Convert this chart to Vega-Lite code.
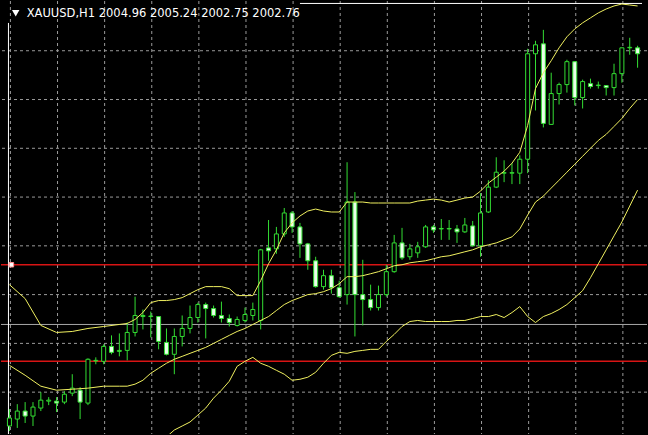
{
  "$schema": "https://vega.github.io/schema/vega-lite/v6.json",
  "width": 648,
  "height": 435,
  "autosize": {"type": "fit", "contains": "padding"},
  "padding": 0,
  "background": "#000000",
  "config": {"view": {"stroke": null}},
  "datasets": {
    "candles": [
      {"i":0,"o":1966.53,"h":1968.26,"l":1966.02,"c":1967.35},
      {"i":1,"o":1967.24,"h":1968.77,"l":1966.33,"c":1968.06},
      {"i":2,"o":1968.06,"h":1968.98,"l":1966.84,"c":1967.55},
      {"i":3,"o":1967.55,"h":1968.98,"l":1966.53,"c":1968.47},
      {"i":4,"o":1968.37,"h":1970.00,"l":1968.06,"c":1969.18},
      {"i":5,"o":1969.08,"h":1969.49,"l":1968.67,"c":1969.18},
      {"i":6,"o":1969.08,"h":1969.49,"l":1967.96,"c":1968.88},
      {"i":7,"o":1968.98,"h":1970.10,"l":1968.77,"c":1969.79},
      {"i":8,"o":1969.90,"h":1971.84,"l":1969.59,"c":1970.41},
      {"i":9,"o":1970.20,"h":1970.51,"l":1967.24,"c":1968.98},
      {"i":10,"o":1968.88,"h":1973.47,"l":1968.67,"c":1973.37},
      {"i":11,"o":1973.21,"h":1973.57,"l":1972.86,"c":1973.26},
      {"i":12,"o":1973.16,"h":1974.90,"l":1972.86,"c":1974.69},
      {"i":13,"o":1974.69,"h":1975.82,"l":1973.88,"c":1974.08},
      {"i":14,"o":1974.18,"h":1976.02,"l":1973.67,"c":1974.28},
      {"i":15,"o":1974.28,"h":1977.14,"l":1973.26,"c":1976.12},
      {"i":16,"o":1976.12,"h":1979.79,"l":1975.71,"c":1977.86},
      {"i":17,"o":1977.75,"h":1978.47,"l":1976.43,"c":1977.86},
      {"i":18,"o":1977.75,"h":1978.26,"l":1975.61,"c":1977.80},
      {"i":19,"o":1977.75,"h":1977.80,"l":1974.39,"c":1975.20},
      {"i":20,"o":1975.10,"h":1976.53,"l":1973.77,"c":1973.88},
      {"i":21,"o":1973.88,"h":1976.53,"l":1971.84,"c":1975.71},
      {"i":22,"o":1975.71,"h":1977.86,"l":1974.69,"c":1976.53},
      {"i":23,"o":1976.53,"h":1978.88,"l":1976.02,"c":1977.65},
      {"i":24,"o":1977.65,"h":1979.18,"l":1977.14,"c":1978.98},
      {"i":25,"o":1978.98,"h":1979.18,"l":1975.51,"c":1978.57},
      {"i":26,"o":1978.57,"h":1978.88,"l":1977.65,"c":1977.86},
      {"i":27,"o":1977.86,"h":1979.28,"l":1977.14,"c":1977.55},
      {"i":28,"o":1977.55,"h":1977.96,"l":1976.73,"c":1977.14},
      {"i":29,"o":1976.84,"h":1977.75,"l":1976.73,"c":1977.45},
      {"i":30,"o":1977.35,"h":1978.67,"l":1977.14,"c":1977.96},
      {"i":31,"o":1977.86,"h":1979.18,"l":1977.35,"c":1978.47},
      {"i":32,"o":1977.35,"h":1984.69,"l":1976.43,"c":1984.59},
      {"i":33,"o":1984.79,"h":1987.65,"l":1983.47,"c":1984.49},
      {"i":34,"o":1984.69,"h":1986.94,"l":1984.18,"c":1986.22},
      {"i":35,"o":1986.22,"h":1988.88,"l":1985.92,"c":1988.37},
      {"i":36,"o":1988.37,"h":1988.57,"l":1986.33,"c":1986.94},
      {"i":37,"o":1986.94,"h":1987.35,"l":1983.77,"c":1985.20},
      {"i":38,"o":1985.20,"h":1985.30,"l":1982.55,"c":1983.47},
      {"i":39,"o":1983.47,"h":1983.88,"l":1980.71,"c":1980.82},
      {"i":40,"o":1980.82,"h":1982.55,"l":1980.51,"c":1981.94},
      {"i":41,"o":1981.94,"h":1982.55,"l":1980.10,"c":1980.71},
      {"i":42,"o":1980.71,"h":1981.43,"l":1979.69,"c":1979.79},
      {"i":43,"o":1980.00,"h":1993.57,"l":1978.98,"c":1989.49},
      {"i":44,"o":1989.49,"h":1990.51,"l":1975.71,"c":1980.00},
      {"i":45,"o":1980.00,"h":1983.57,"l":1976.84,"c":1979.49},
      {"i":46,"o":1979.49,"h":1981.02,"l":1978.37,"c":1978.67},
      {"i":47,"o":1978.67,"h":1980.92,"l":1978.37,"c":1980.00},
      {"i":48,"o":1980.00,"h":1983.06,"l":1979.79,"c":1982.35},
      {"i":49,"o":1982.35,"h":1986.12,"l":1982.24,"c":1985.30},
      {"i":50,"o":1985.30,"h":1986.84,"l":1983.57,"c":1983.77},
      {"i":51,"o":1983.88,"h":1985.20,"l":1983.57,"c":1984.69},
      {"i":52,"o":1984.28,"h":1985.41,"l":1983.77,"c":1984.90},
      {"i":53,"o":1984.90,"h":1987.14,"l":1984.79,"c":1986.94},
      {"i":54,"o":1986.94,"h":1987.14,"l":1986.33,"c":1986.63},
      {"i":55,"o":1986.73,"h":1987.75,"l":1985.61,"c":1986.78},
      {"i":56,"o":1986.73,"h":1987.65,"l":1985.61,"c":1986.78},
      {"i":57,"o":1986.73,"h":1987.14,"l":1985.30,"c":1986.43},
      {"i":58,"o":1986.43,"h":1987.86,"l":1986.33,"c":1987.14},
      {"i":59,"o":1987.04,"h":1987.55,"l":1984.95,"c":1985.00},
      {"i":60,"o":1985.00,"h":1990.41,"l":1983.88,"c":1988.37},
      {"i":61,"o":1988.47,"h":1991.73,"l":1988.37,"c":1991.02},
      {"i":62,"o":1991.02,"h":1994.08,"l":1990.92,"c":1992.55},
      {"i":63,"o":1992.45,"h":1993.77,"l":1991.53,"c":1992.50},
      {"i":64,"o":1992.45,"h":1993.47,"l":1991.33,"c":1992.50},
      {"i":65,"o":1992.45,"h":1994.28,"l":1991.33,"c":1993.88},
      {"i":66,"o":1993.88,"h":2005.20,"l":1992.45,"c":2004.69},
      {"i":67,"o":2004.69,"h":2006.02,"l":1998.88,"c":2005.61},
      {"i":68,"o":2005.71,"h":2007.14,"l":1997.14,"c":1997.55},
      {"i":69,"o":1997.45,"h":2002.75,"l":1997.40,"c":2000.61},
      {"i":70,"o":2000.61,"h":2001.73,"l":1999.49,"c":2001.53},
      {"i":71,"o":2001.53,"h":2004.08,"l":2000.71,"c":2003.88},
      {"i":72,"o":2003.88,"h":2003.93,"l":1999.39,"c":2000.20},
      {"i":73,"o":2000.20,"h":2002.04,"l":1999.08,"c":2001.84},
      {"i":74,"o":2001.63,"h":2002.14,"l":2001.12,"c":2001.33},
      {"i":75,"o":2001.43,"h":2001.84,"l":2001.12,"c":2001.48},
      {"i":76,"o":2001.43,"h":2001.48,"l":2000.41,"c":2001.22},
      {"i":77,"o":2001.22,"h":2003.67,"l":2000.41,"c":2002.65},
      {"i":78,"o":2002.65,"h":2005.30,"l":2001.73,"c":2005.30},
      {"i":79,"o":2005.30,"h":2006.33,"l":2004.59,"c":2005.35},
      {"i":80,"o":2005.30,"h":2005.51,"l":2003.26,"c":2004.69}
    ],
    "upper": [
      {"i":0,"v":1981.02},{"i":2,"v":1979.59},{"i":4,"v":1976.84},{"i":6,"v":1976.12},{"i":8,"v":1976.22},
      {"i":10,"v":1976.53},{"i":12,"v":1976.73},{"i":14,"v":1976.94},{"i":15,"v":1977.04},{"i":16,"v":1977.45},
      {"i":17,"v":1978.16},{"i":18,"v":1979.18},{"i":19,"v":1979.39},{"i":20,"v":1979.39},{"i":21,"v":1979.49},
      {"i":22,"v":1979.69},{"i":23,"v":1980.10},{"i":24,"v":1980.51},{"i":25,"v":1980.82},{"i":26,"v":1980.82},
      {"i":27,"v":1980.82},{"i":28,"v":1980.61},{"i":29,"v":1979.90},{"i":30,"v":1979.90},{"i":31,"v":1979.90},
      {"i":32,"v":1981.43},{"i":33,"v":1983.16},{"i":34,"v":1984.59},{"i":35,"v":1986.33},{"i":36,"v":1987.35},
      {"i":37,"v":1988.06},{"i":38,"v":1988.57},{"i":39,"v":1988.77},{"i":40,"v":1988.57},{"i":41,"v":1988.47},
      {"i":42,"v":1988.47},{"i":43,"v":1989.49},{"i":44,"v":1989.49},{"i":45,"v":1989.49},{"i":46,"v":1989.39},
      {"i":47,"v":1989.39},{"i":48,"v":1989.39},{"i":49,"v":1989.39},{"i":50,"v":1989.39},{"i":51,"v":1989.39},
      {"i":52,"v":1989.59},{"i":53,"v":1989.69},{"i":54,"v":1989.79},{"i":55,"v":1989.69},{"i":56,"v":1989.49},
      {"i":57,"v":1989.69},{"i":58,"v":1989.90},{"i":59,"v":1990.00},{"i":60,"v":1990.61},{"i":61,"v":1991.43},
      {"i":62,"v":1992.04},{"i":63,"v":1992.65},{"i":64,"v":1993.47},{"i":65,"v":1994.59},{"i":66,"v":1997.35},
      {"i":67,"v":2001.12},{"i":68,"v":2002.75},{"i":69,"v":2003.98},{"i":70,"v":2005.30},{"i":71,"v":2006.43},
      {"i":72,"v":2007.24},{"i":73,"v":2007.86},{"i":74,"v":2008.37},{"i":75,"v":2008.88},{"i":76,"v":2009.28},
      {"i":77,"v":2009.59},{"i":78,"v":2009.79},{"i":79,"v":2009.69},{"i":80,"v":2009.59}
    ],
    "middle": [
      {"i":0,"v":1972.75},{"i":2,"v":1971.73},{"i":4,"v":1970.61},{"i":6,"v":1970.20},{"i":8,"v":1970.30},
      {"i":10,"v":1970.41},{"i":12,"v":1970.61},{"i":14,"v":1970.61},{"i":15,"v":1970.61},{"i":16,"v":1970.82},
      {"i":17,"v":1971.22},{"i":18,"v":1971.94},{"i":19,"v":1972.45},{"i":20,"v":1972.96},{"i":21,"v":1973.37},
      {"i":22,"v":1973.67},{"i":23,"v":1973.98},{"i":24,"v":1974.28},{"i":25,"v":1974.59},{"i":26,"v":1975.00},
      {"i":27,"v":1975.41},{"i":28,"v":1975.82},{"i":29,"v":1976.22},{"i":30,"v":1976.53},{"i":31,"v":1976.94},
      {"i":32,"v":1977.35},{"i":33,"v":1977.75},{"i":34,"v":1978.37},{"i":35,"v":1978.98},{"i":36,"v":1979.39},
      {"i":37,"v":1979.69},{"i":38,"v":1980.00},{"i":39,"v":1980.10},{"i":40,"v":1980.30},{"i":41,"v":1980.61},
      {"i":42,"v":1981.12},{"i":43,"v":1981.84},{"i":44,"v":1981.84},{"i":45,"v":1981.94},{"i":46,"v":1982.14},
      {"i":47,"v":1982.35},{"i":48,"v":1982.65},{"i":49,"v":1982.96},{"i":50,"v":1983.06},{"i":51,"v":1983.26},
      {"i":52,"v":1983.37},{"i":53,"v":1983.47},{"i":54,"v":1983.67},{"i":55,"v":1983.88},{"i":56,"v":1983.98},
      {"i":57,"v":1984.18},{"i":58,"v":1984.39},{"i":59,"v":1984.59},{"i":60,"v":1984.90},{"i":61,"v":1985.10},
      {"i":62,"v":1985.30},{"i":63,"v":1985.61},{"i":64,"v":1985.92},{"i":65,"v":1986.73},{"i":66,"v":1988.16},
      {"i":67,"v":1989.49},{"i":68,"v":1990.10},{"i":69,"v":1990.92},{"i":70,"v":1991.73},{"i":71,"v":1992.55},
      {"i":72,"v":1993.37},{"i":73,"v":1994.18},{"i":74,"v":1995.00},{"i":75,"v":1995.81},{"i":76,"v":1996.43},
      {"i":77,"v":1997.24},{"i":78,"v":1998.06},{"i":79,"v":1999.08},{"i":80,"v":2000.00}
    ],
    "lower": [
      {"i":19,"v":1964.39},{"i":20,"v":1965.41},{"i":21,"v":1966.12},{"i":22,"v":1966.53},{"i":23,"v":1966.94},
      {"i":24,"v":1967.65},{"i":25,"v":1968.37},{"i":26,"v":1969.39},{"i":27,"v":1970.20},{"i":28,"v":1971.12},
      {"i":29,"v":1972.65},{"i":30,"v":1973.16},{"i":31,"v":1973.57},{"i":32,"v":1972.96},{"i":33,"v":1972.65},
      {"i":34,"v":1972.24},{"i":35,"v":1971.84},{"i":36,"v":1971.22},{"i":37,"v":1971.32},{"i":38,"v":1971.53},
      {"i":39,"v":1972.04},{"i":40,"v":1972.96},{"i":41,"v":1973.77},{"i":42,"v":1974.08},{"i":43,"v":1973.98},
      {"i":44,"v":1974.18},{"i":45,"v":1974.28},{"i":46,"v":1974.39},{"i":47,"v":1974.39},{"i":48,"v":1975.20},
      {"i":49,"v":1975.92},{"i":50,"v":1976.73},{"i":51,"v":1977.24},{"i":52,"v":1977.35},{"i":53,"v":1977.24},
      {"i":54,"v":1977.24},{"i":55,"v":1977.24},{"i":56,"v":1977.24},{"i":57,"v":1977.35},{"i":58,"v":1977.35},
      {"i":59,"v":1977.55},{"i":60,"v":1977.75},{"i":61,"v":1977.75},{"i":62,"v":1977.96},{"i":63,"v":1977.65},
      {"i":64,"v":1978.16},{"i":65,"v":1978.77},{"i":66,"v":1977.75},{"i":67,"v":1977.14},{"i":68,"v":1977.75},
      {"i":69,"v":1978.06},{"i":70,"v":1978.47},{"i":71,"v":1978.98},{"i":72,"v":1979.69},{"i":73,"v":1980.41},
      {"i":74,"v":1981.73},{"i":75,"v":1983.16},{"i":76,"v":1984.59},{"i":77,"v":1986.02},{"i":78,"v":1987.45},
      {"i":79,"v":1989.08},{"i":80,"v":1990.71}
    ]
  },
  "layer": [
    {
      "data": {"values": [{"i":0.125},{"i":6.125},{"i":12.125},{"i":18.125},{"i":24.125},{"i":30.125},{"i":36.125},{"i":42.125},{"i":48.125},{"i":54.125},{"i":60.125},{"i":66.125},{"i":72.125},{"i":78.125}]},
      "mark": {"type": "rule", "color": "#9a9a9a", "strokeWidth": 1, "strokeDash": [3, 3]},
      "encoding": {
        "x": {"field": "i", "type": "quantitative", "scale": {"domain": [-0.4375, 80.5625], "nice": false, "zero": false}, "axis": null}
      }
    },
    {
      "data": {"values": [{"p":2005},{"p":2000},{"p":1995},{"p":1990},{"p":1985},{"p":1980},{"p":1975},{"p":1970}]},
      "mark": {"type": "rule", "color": "#9a9a9a", "strokeWidth": 1, "strokeDash": [3, 3]},
      "encoding": {
        "y": {"field": "p", "type": "quantitative", "scale": {"domain": [1965.71, 2010.1], "nice": false, "zero": false}, "axis": null}
      }
    },
    {
      "data": {"values": [{"p":1976.94}]},
      "mark": {"type": "rule", "color": "#a8a8a8", "strokeWidth": 1},
      "encoding": {
        "y": {"field": "p", "type": "quantitative", "scale": {"domain": [1965.71, 2010.1], "nice": false, "zero": false}, "axis": null}
      }
    },
    {
      "data": {"values": [{"p":1983.06},{"p":1973.16}]},
      "mark": {"type": "rule", "color": "#d81414", "strokeWidth": 1.5},
      "encoding": {
        "y": {"field": "p", "type": "quantitative", "scale": {"domain": [1965.71, 2010.1], "nice": false, "zero": false}, "axis": null}
      }
    },
    {
      "data": {"values": [{"i":-0.125,"p1":2007.85,"p2":1965.71}]},
      "mark": {"type": "rule", "color": "#ffffff", "strokeWidth": 1, "clip": true},
      "encoding": {
        "x": {"field": "i", "type": "quantitative", "scale": {"domain": [-0.4375, 80.5625], "nice": false, "zero": false}, "axis": null},
        "y": {"field": "p1", "type": "quantitative", "scale": {"domain": [1965.71, 2010.1], "nice": false, "zero": false}, "axis": null},
        "y2": {"field": "p2"}
      }
    },
    {
      "data": {"values": [{"i1":37,"i2":80.5625,"p":2009.85}]},
      "mark": {"type": "rule", "color": "#ffffff", "strokeWidth": 1, "clip": true},
      "encoding": {
        "x": {"field": "i1", "type": "quantitative", "scale": {"domain": [-0.4375, 80.5625], "nice": false, "zero": false}, "axis": null},
        "x2": {"field": "i2"},
        "y": {"field": "p", "type": "quantitative", "scale": {"domain": [1965.71, 2010.1], "nice": false, "zero": false}, "axis": null}
      }
    },
    {
      "data": {"name": "candles"},
      "mark": {"type": "rule", "color": "#33dd33", "strokeWidth": 1, "clip": true},
      "encoding": {
        "x": {"field": "i", "type": "quantitative", "scale": {"domain": [-0.4375, 80.5625], "nice": false, "zero": false}, "axis": null},
        "y": {"field": "l", "type": "quantitative", "scale": {"domain": [1965.71, 2010.1], "nice": false, "zero": false}, "axis": null},
        "y2": {"field": "h"}
      }
    },
    {
      "data": {"name": "candles"},
      "mark": {"type": "bar", "width": 4, "stroke": "#33dd33", "strokeWidth": 1, "clip": true},
      "encoding": {
        "x": {"field": "i", "type": "quantitative", "scale": {"domain": [-0.4375, 80.5625], "nice": false, "zero": false}, "axis": null},
        "y": {"field": "o", "type": "quantitative", "scale": {"domain": [1965.71, 2010.1], "nice": false, "zero": false}, "axis": null},
        "y2": {"field": "c"},
        "fill": {"condition": {"test": "datum.c >= datum.o", "value": "#000000"}, "value": "#eaffea"}
      }
    },
    {
      "data": {"name": "upper"},
      "mark": {"type": "line", "color": "#f0f060", "strokeWidth": 1, "clip": true},
      "encoding": {
        "x": {"field": "i", "type": "quantitative", "scale": {"domain": [-0.4375, 80.5625], "nice": false, "zero": false}, "axis": null},
        "y": {"field": "v", "type": "quantitative", "scale": {"domain": [1965.71, 2010.1], "nice": false, "zero": false}, "axis": null}
      }
    },
    {
      "data": {"name": "middle"},
      "mark": {"type": "line", "color": "#f0f060", "strokeWidth": 1, "clip": true},
      "encoding": {
        "x": {"field": "i", "type": "quantitative", "scale": {"domain": [-0.4375, 80.5625], "nice": false, "zero": false}, "axis": null},
        "y": {"field": "v", "type": "quantitative", "scale": {"domain": [1965.71, 2010.1], "nice": false, "zero": false}, "axis": null}
      }
    },
    {
      "data": {"name": "lower"},
      "mark": {"type": "line", "color": "#f0f060", "strokeWidth": 1, "clip": true},
      "encoding": {
        "x": {"field": "i", "type": "quantitative", "scale": {"domain": [-0.4375, 80.5625], "nice": false, "zero": false}, "axis": null},
        "y": {"field": "v", "type": "quantitative", "scale": {"domain": [1965.71, 2010.1], "nice": false, "zero": false}, "axis": null}
      }
    },
    {
      "data": {"values": [{"i":0.25,"p":1983.06}]},
      "mark": {"type": "square", "size": 20, "color": "#ffffff", "opacity": 1, "stroke": "#ff9090", "strokeWidth": 1},
      "encoding": {
        "x": {"field": "i", "type": "quantitative", "scale": {"domain": [-0.4375, 80.5625], "nice": false, "zero": false}, "axis": null},
        "y": {"field": "p", "type": "quantitative", "scale": {"domain": [1965.71, 2010.1], "nice": false, "zero": false}, "axis": null}
      }
    },
    {
      "data": {"values": [{"i":0.8,"p":2008.85}]},
      "mark": {"type": "point", "shape": "triangle-down", "filled": true, "color": "#ffffff", "opacity": 1, "size": 55},
      "encoding": {
        "x": {"field": "i", "type": "quantitative", "scale": {"domain": [-0.4375, 80.5625], "nice": false, "zero": false}, "axis": null},
        "y": {"field": "p", "type": "quantitative", "scale": {"domain": [1965.71, 2010.1], "nice": false, "zero": false}, "axis": null}
      }
    },
    {
      "data": {"values": [{"i":2.2,"p":2008.77,"t":"XAUUSD,H1   2004.96 2005.24 2002.75 2002.76"}]},
      "mark": {"type": "text", "align": "left", "baseline": "middle", "font": "DejaVu Sans", "fontSize": 11.5, "color": "#ffffff"},
      "encoding": {
        "x": {"field": "i", "type": "quantitative", "scale": {"domain": [-0.4375, 80.5625], "nice": false, "zero": false}, "axis": null},
        "y": {"field": "p", "type": "quantitative", "scale": {"domain": [1965.71, 2010.1], "nice": false, "zero": false}, "axis": null},
        "text": {"field": "t", "type": "nominal"}
      }
    }
  ]
}
